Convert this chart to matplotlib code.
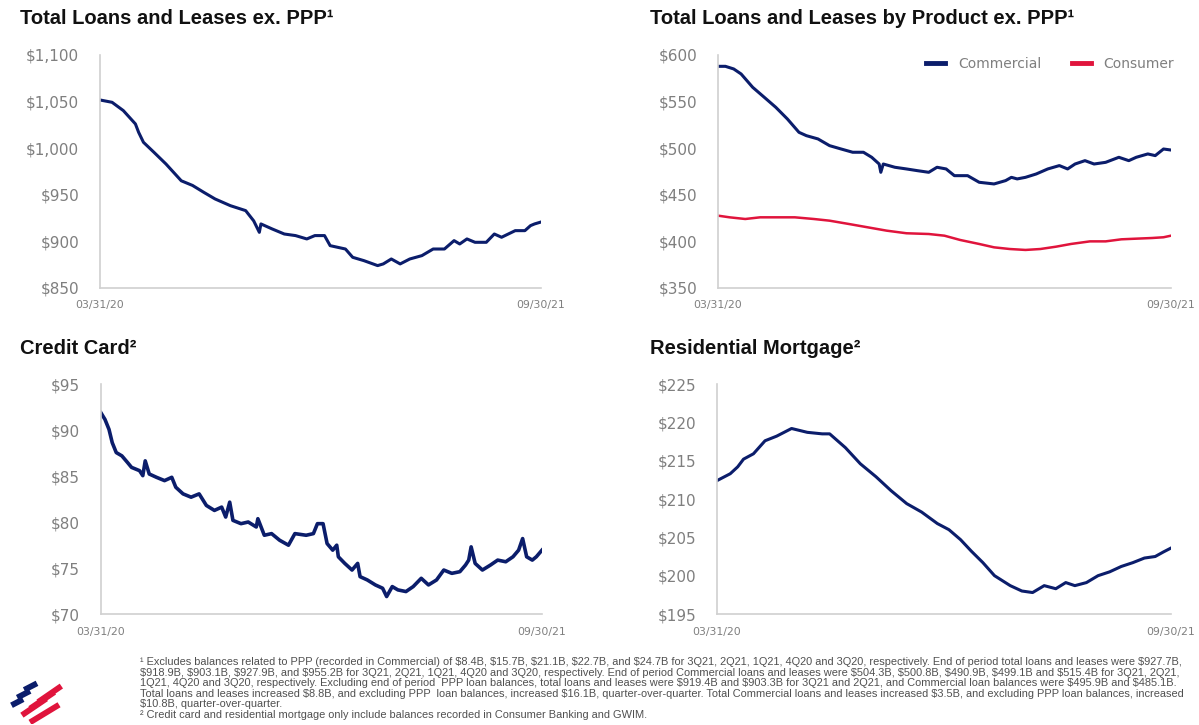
import matplotlib
matplotlib.use("Agg")
import matplotlib.pyplot as plt
from matplotlib.lines import Line2D

# dias desde 31/03/2020 (eixo vai ate 30/09/2021 = dia 548)
FIM = 548

# Total Loans and Leases ex. PPP ($B)
dias_total = [0, 15, 29, 44, 48, 54, 67, 82, 101, 115, 129, 143, 162, 181, 191, 198,
              200, 214, 229, 243, 257, 267, 279, 286, 305, 314, 328, 345, 352, 362,
              373, 385, 400, 414, 428, 440, 447, 456, 466, 480, 490, 499, 516, 528,
              535, 540, 547]
total = [1051.7, 1049.2, 1040.3, 1026.0, 1017.0, 1006.3, 995.6, 983.0, 965.0, 960.0,
         952.6, 945.5, 938.3, 933.0, 922.0, 909.7, 918.7, 913.3, 907.9, 906.2, 902.6,
         906.2, 906.2, 895.4, 891.8, 882.9, 879.3, 874.0, 875.8, 881.1, 875.8, 881.1,
         884.7, 891.8, 891.8, 900.8, 897.2, 902.6, 899.0, 899.0, 907.9, 904.4, 911.5,
         911.5, 916.9, 918.7, 920.5]

# por produto
dias_com = [0, 9, 19, 28, 42, 56, 70, 84, 98, 107, 121, 135, 149, 163, 176, 186, 195,
            197, 200, 214, 228, 241, 255, 265, 276, 286, 302, 316, 334, 348, 355, 362,
            372, 385, 399, 413, 423, 432, 444, 455, 469, 485, 497, 506, 520, 529, 539, 548]
comercial = [587.8, 587.8, 585.0, 579.6, 565.3, 554.6, 543.8, 531.3, 517.0, 513.4,
             509.9, 502.7, 499.1, 495.6, 495.6, 490.2, 483.0, 474.1, 483.0, 479.5,
             477.7, 475.9, 474.1, 479.5, 477.7, 470.5, 470.5, 463.4, 461.6, 465.2,
             468.7, 467.0, 468.7, 472.3, 477.7, 481.3, 477.7, 483.0, 486.6, 483.0,
             484.8, 490.2, 486.6, 490.2, 493.8, 492.0, 499.1, 498.0]
dias_cons = [0, 14, 33, 51, 74, 93, 116, 135, 158, 181, 204, 228, 255, 274, 293, 316,
             334, 353, 372, 390, 409, 427, 450, 469, 488, 506, 525, 539, 548]
consumidor = [427.6, 425.8, 424.0, 425.8, 425.8, 425.8, 424.0, 422.2, 418.7, 415.1,
              411.5, 408.7, 407.9, 406.1, 401.5, 397.2, 393.6, 391.8, 390.8, 391.8,
              394.3, 397.2, 400.0, 400.0, 402.2, 402.9, 403.6, 404.4, 406.1]

# Credit Card
dias_cartao = [0, 5, 10, 14, 19, 26, 33, 38, 48, 52, 55, 60, 69, 79, 88, 93, 102, 112,
               122, 131, 141, 150, 155, 160, 164, 174, 183, 193, 195, 203, 212, 222, 233,
               241, 255, 264, 269, 276, 281, 288, 293, 295, 303, 312, 319, 322, 331, 341,
               350, 355, 362, 369, 379, 388, 398, 407, 417, 426, 436, 446, 453, 457, 460,
               465, 474, 484, 493, 503, 512, 519, 524, 529, 536, 541, 548]
cartao = [91.87, 91.15, 90.07, 88.63, 87.55, 87.19, 86.47, 85.94, 85.58, 85.04, 86.65,
          85.22, 84.86, 84.50, 84.86, 83.78, 83.06, 82.70, 83.06, 81.80, 81.26, 81.62,
          80.54, 82.16, 80.18, 79.82, 80.00, 79.46, 80.36, 78.56, 78.74, 78.02, 77.48,
          78.74, 78.56, 78.74, 79.82, 79.82, 77.66, 76.94, 77.48, 76.22, 75.50, 74.78,
          75.50, 74.06, 73.70, 73.16, 72.80, 71.90, 72.98, 72.62, 72.44, 72.98, 73.88,
          73.16, 73.70, 74.78, 74.42, 74.60, 75.32, 75.86, 77.30, 75.50, 74.78, 75.32,
          75.86, 75.68, 76.22, 76.94, 78.20, 76.22, 75.86, 76.22, 76.94]

# Residential Mortgage
dias_hipo = [0, 16, 25, 32, 44, 58, 72, 90, 109, 127, 136, 155, 173, 192, 210, 229, 247,
             266, 280, 294, 307, 321, 335, 354, 368, 381, 395, 409, 421, 432, 446, 460,
             474, 488, 502, 516, 529, 539, 548]
hipoteca = [212.4, 213.3, 214.2, 215.2, 215.9, 217.6, 218.2, 219.2, 218.7, 218.5, 218.5,
            216.7, 214.6, 212.9, 211.1, 209.4, 208.3, 206.8, 206.0, 204.7, 203.2, 201.7,
            200.0, 198.7, 198.0, 197.8, 198.7, 198.3, 199.1, 198.7, 199.1, 200.0, 200.5,
            201.2, 201.7, 202.3, 202.5, 203.1, 203.6]

xlabels = ["03/31/20", "09/30/21"]

AZUL = "#0b1d6b"
VERMELHO = "#e0143c"
CINZA = "#7f7f7f"

nota = [
    "\u00b9 Excludes balances related to PPP (recorded in Commercial) of $8.4B, $15.7B, $21.1B, $22.7B, and $24.7B for 3Q21, 2Q21, 1Q21, 4Q20 and 3Q20, respectively. End of period total loans and leases were $927.7B,",
    "$918.9B, $903.1B, $927.9B, and $955.2B for 3Q21, 2Q21, 1Q21, 4Q20 and 3Q20, respectively. End of period Commercial loans and leases were $504.3B, $500.8B, $490.9B, $499.1B and $515.4B for 3Q21, 2Q21,",
    "1Q21, 4Q20 and 3Q20, respectively. Excluding end of period  PPP loan balances, total loans and leases were $919.4B and $903.3B for 3Q21 and 2Q21, and Commercial loan balances were $495.9B and $485.1B.",
    "Total loans and leases increased $8.8B, and excluding PPP  loan balances, increased $16.1B, quarter-over-quarter. Total Commercial loans and leases increased $3.5B, and excluding PPP loan balances, increased",
    "$10.8B, quarter-over-quarter.",
    "\u00b2 Credit card and residential mortgage only include balances recorded in Consumer Banking and GWIM.",
]


def estilo(ax, ymin, ymax, passo, fmt):
    ax.set_xlim(0, FIM)
    ax.set_ylim(ymin, ymax)
    ax.set_yticks(range(ymin, ymax + 1, passo))
    ax.set_yticklabels([fmt.format(v) for v in range(ymin, ymax + 1, passo)],
                       fontsize=11, color=CINZA)
    ax.set_xticks([0, FIM])
    ax.set_xticklabels(xlabels, fontsize=7.8, color=CINZA)
    ax.tick_params(axis="y", length=0, pad=15)
    ax.tick_params(axis="x", length=0, pad=9)
    for lado in ("top", "right"):
        ax.spines[lado].set_visible(False)
    for lado in ("left", "bottom"):
        ax.spines[lado].set_color("#d0d0d0")
        ax.spines[lado].set_linewidth(1.2)


fig = plt.figure(figsize=(11.99, 7.25), dpi=100)
titulo = dict(fontsize=14.5, fontweight="bold", family="Liberation Sans", color="#111111")

ax1 = fig.add_axes([0.0834, 0.6028, 0.3678, 0.3214])
ax1.plot(dias_total, total, color=AZUL, lw=2.2)
estilo(ax1, 850, 1100, 50, "${:,}")
fig.text(20 / 1199, 1 - 19 / 725, "Total Loans and Leases ex. PPP\u00b9", va="center", **titulo)

ax2 = fig.add_axes([0.5988, 0.6028, 0.3778, 0.3214])
ax2.plot(dias_com, comercial, color=AZUL, lw=2.2)
ax2.plot(dias_cons, consumidor, color=VERMELHO, lw=1.8)
estilo(ax2, 350, 600, 50, "${}")
fig.text(650 / 1199, 1 - 19 / 725, "Total Loans and Leases by Product ex. PPP\u00b9", va="center", **titulo)
alcas = [Line2D([], [], color=AZUL, lw=3.5), Line2D([], [], color=VERMELHO, lw=3.5)]
ax2.legend(alcas, ["Commercial", "Consumer"], loc="upper right", ncol=2, frameon=False,
           bbox_to_anchor=(1.035, 1.045), handlelength=1.4, columnspacing=2.2,
           handletextpad=0.9, labelcolor=CINZA, prop={"size": 10})

ax3 = fig.add_axes([0.0842, 0.1531, 0.3678, 0.3172])
ax3.plot(dias_cartao, cartao, color=AZUL, lw=2.6)
estilo(ax3, 70, 95, 5, "${}")
fig.text(20 / 1199, 1 - 348 / 725, "Credit Card\u00b2", va="center", **titulo)

ax4 = fig.add_axes([0.598, 0.1531, 0.3786, 0.3172])
ax4.plot(dias_hipo, hipoteca, color=AZUL, lw=2.2)
estilo(ax4, 195, 225, 5, "${}")
fig.text(650 / 1199, 1 - 348 / 725, "Residential Mortgage\u00b2", va="center", **titulo)

# notas de rodape
for i, linha in enumerate(nota):
    fig.text(140 / 1199, 1 - (662 + i * 10.6) / 725, linha, fontsize=7.9, color="#505050",
             va="center", family="Liberation Sans", parse_math=False)

# logo (bandeira estilizada)
axl = fig.add_axes([8 / 1199, 1 - 724 / 725, 58 / 1199, 44 / 725])
axl.set_xlim(0, 10)
axl.set_ylim(0, 8)
axl.axis("off")
listras = [
    ((0.6, 3.4), (2.6, 4.5), AZUL), ((1.6, 4.8), (3.8, 6.0), AZUL), ((2.8, 6.2), (5.0, 7.4), AZUL),
    ((2.4, 1.6), (6.6, 4.6), VERMELHO), ((3.8, 2.8), (8.0, 5.8), VERMELHO),
    ((5.2, 4.0), (9.2, 6.9), VERMELHO), ((3.8, 0.3), (8.8, 3.5), VERMELHO),
]
for (x0, y0), (x1, y1), cor in listras:
    axl.plot([x0, x1], [y0, y1], color=cor, lw=4.2, solid_capstyle="butt")

fig.savefig("out.png", dpi=100)
